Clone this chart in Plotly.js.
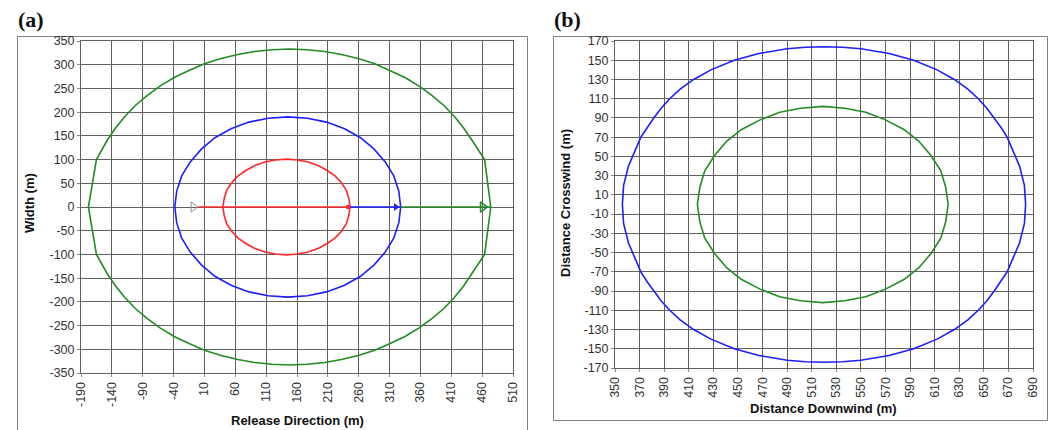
<!DOCTYPE html>
<html>
<head>
<meta charset="utf-8">
<script src="https://cdn.plot.ly/plotly-3.0.1.min.js"></script>
<style>
  html, body { margin: 0; padding: 0; background: #fff; }
  #chart { width: 1051px; height: 430px; }
</style>
</head>
<body>
<div id="chart"></div>
<script>
// ---------- Panel (a): release direction vs width ----------
const aGreenX = [474, 464, 443.5, 430, 415, 398, 378.5, 358, 335, 311, 286, 259, 232, 205, 176, 148,
                 120, 91, 64, 37, 10, -15, -39, -62, -82.5, -102, -119, -134, -147.5, -165, -178,
                 -165, -147.5, -134, -119, -102, -82.5, -62, -39, -15, 10, 37, 64, 91, 120,
                 148, 176, 205, 232, 259, 286, 311, 335, 358, 378.5, 398, 415, 430, 443.5, 464, 474];
const aGreenY = [0, 100, 140.7, 166.5, 191, 214, 235.5, 255, 273, 288, 302, 313, 321.6, 328, 331.7, 333,
                 331.7, 328, 321.6, 313, 302, 288, 273, 255, 235.5, 214, 191, 166.5, 140.7, 100, 0,
                 -100, -140.7, -166.5, -191, -214, -235.5, -255, -273, -288, -302, -313, -321.6, -328, -331.7,
                 -333, -331.7, -328, -321.6, -313, -302, -288, -273, -255, -235.5, -214, -191, -166.5, -140.7, -100, 0];

const aBlueX = [328, 325, 317, 303, 285, 263, 237, 208, 177, 145, 113, 82, 53, 27, 5, -13, -27, -35, -38,
                -35, -27, -13, 5, 27, 53, 82, 113, 145, 177, 208, 237, 263, 285, 303, 317, 325, 328];
const aBlueY = [0, 33, 65, 95, 122, 146, 165, 179, 187, 190, 187, 179, 165, 146, 122, 95, 65, 33, 0,
                -33, -65, -95, -122, -146, -165, -179, -187, -190, -187, -179, -165, -146, -122, -95, -65, -33, 0];

const aRedX = [246, 244, 240, 232, 222, 209, 195, 178, 161, 143, 125, 108, 91, 77, 64, 54, 46, 42, 40,
               42, 46, 54, 64, 77, 91, 108, 125, 143, 161, 178, 195, 209, 222, 232, 240, 244, 246];
const aRedY = [0, 18, 35, 51, 65, 77, 87, 95, 99, 101, 99, 95, 87, 77, 65, 51, 35, 18, 0,
               -18, -35, -51, -65, -77, -87, -95, -99, -101, -99, -95, -87, -77, -65, -51, -35, -18, 0];

// centre-line segments (release point -> red -> blue -> green extents)
const axisBreaks = [0, 245, 328, 474];
const releaseMarkX = -8;
const redMarkX = 243;
const blueMarkX = 320;
const greenMarkX = 461;

const aXTicks = [-190, -140, -90, -40, 10, 60, 110, 160, 210, 260, 310, 360, 410, 460, 510];
const aYTicks = [-350, -300, -250, -200, -150, -100, -50, 0, 50, 100, 150, 200, 250, 300, 350];

// ---------- Panel (b): distance downwind vs crosswind ----------
const bBlueX = [684, 683.5, 683, 681, 679, 674, 669, 664, 658.5, 652.5, 645.5, 637, 626, 612, 593, 573, 550, 535, 520,
                505, 490, 467, 447, 428, 414, 403, 394.5, 387.5, 381.5, 376, 371, 366, 361, 359, 357, 356.5, 356,
                356.5, 357, 359, 361, 366, 371, 376, 381.5, 387.5, 394.5, 403, 414, 428, 447, 467, 490, 505,
                520, 535, 550, 573, 593, 612, 626, 637, 645.5, 652.5, 658.5, 664, 669, 674, 679, 681, 683, 683.5, 684];
const bBlueY = [0, 10, 20, 30, 40, 55, 70, 80, 90, 100, 110, 120, 130, 140, 150, 157, 162, 163.5, 164,
                163.5, 162, 157, 150, 140, 130, 120, 110, 100, 90, 80, 70, 55, 40, 30, 20, 10, 0,
                -10, -20, -30, -40, -55, -70, -80, -90, -100, -110, -120, -130, -140, -150, -157, -162, -163.5,
                -164, -163.5, -162, -157, -150, -140, -130, -120, -110, -100, -90, -80, -70, -55, -40, -30, -20, -10, 0];

const bGreenX = [621, 619, 615, 607, 597, 585, 570, 554, 537, 519, 501, 484, 468, 453, 441, 431, 423, 419, 417,
                 419, 423, 431, 441, 453, 468, 484, 501, 519, 537, 554, 570, 585, 597, 607, 615, 619, 621];
const bGreenY = [0, 18, 35, 51, 66, 78, 88, 96, 100, 102, 100, 96, 88, 78, 66, 51, 35, 18, 0,
                 -18, -35, -51, -66, -78, -88, -96, -100, -102, -100, -96, -88, -78, -66, -51, -35, -18, 0];

const bXTicks = [350, 370, 390, 410, 430, 450, 470, 490, 510, 530, 550, 570, 590, 610, 630, 650, 670, 690];
const bYTicks = [-170, -150, -130, -110, -90, -70, -50, -30, -10, 10, 30, 50, 70, 90, 110, 130, 150, 170];

// ---------- colours / styles ----------
const GREEN = 'rgb(34,139,34)';
const BLUE = 'rgb(30,30,255)';
const RED = 'rgb(255,40,40)';
const GRID = '#606060';

function curve(x, y, color, xa, ya) {
  return { type: 'scatter', mode: 'lines', x: x, y: y, xaxis: xa, yaxis: ya,
           line: { color: color, width: 1.6 }, hoverinfo: 'skip' };
}

const traces = [
  curve(aGreenX, aGreenY, GREEN, 'x', 'y'),
  curve(aBlueX, aBlueY, BLUE, 'x', 'y'),
  curve(aRedX, aRedY, RED, 'x', 'y'),
  curve([axisBreaks[0], axisBreaks[1]], [0, 0], RED, 'x', 'y'),
  curve([axisBreaks[1], axisBreaks[2]], [0, 0], BLUE, 'x', 'y'),
  curve([axisBreaks[2], axisBreaks[3]], [0, 0], GREEN, 'x', 'y'),
  { type: 'scatter', mode: 'markers', x: [releaseMarkX], y: [0], xaxis: 'x', yaxis: 'y',
    marker: { symbol: 'triangle-right-open', size: 9, color: '#909090', line: { width: 1, color: '#909090' } } },
  { type: 'scatter', mode: 'markers', x: [redMarkX], y: [0], xaxis: 'x', yaxis: 'y',
    marker: { symbol: 'square', size: 4, color: RED } },
  { type: 'scatter', mode: 'markers', x: [blueMarkX], y: [0], xaxis: 'x', yaxis: 'y',
    marker: { symbol: 'triangle-right', size: 7, color: BLUE } },
  { type: 'scatter', mode: 'markers', x: [greenMarkX], y: [0], xaxis: 'x', yaxis: 'y',
    marker: { symbol: 'triangle-right-open', size: 9, color: GREEN, line: { width: 1.5, color: GREEN } } },
  curve(bBlueX, bBlueY, BLUE, 'x2', 'y2'),
  curve(bGreenX, bGreenY, GREEN, 'x2', 'y2')
];

const W = 1051, H = 430;
const px = v => v / W;
const py = v => 1 - v / H;

function axis(domain, range, ticks, anchor, angle) {
  return {
    domain: domain, range: range, anchor: anchor,
    tickmode: 'array', tickvals: ticks, ticktext: ticks.map(String),
    tickangle: angle, ticks: 'outside', ticklen: 3, tickcolor: '#888',
    tickfont: { family: 'Liberation Sans, Arial, sans-serif', size: 12.5, color: '#333' },
    showgrid: true, gridcolor: GRID, gridwidth: 1,
    showline: true, linecolor: GRID, linewidth: 1, mirror: true,
    zeroline: false, fixedrange: true
  };
}

const titleFont = { family: 'Liberation Sans, Arial, sans-serif', size: 13, color: '#111' };
const labelFont = { family: 'Liberation Serif, Times New Roman, serif', size: 22, color: '#111' };

const layout = {
  width: W, height: H,
  margin: { l: 0, r: 0, t: 0, b: 0 },
  paper_bgcolor: '#fff', plot_bgcolor: '#fff',
  showlegend: false,
  xaxis: axis([px(81), px(513)], [-190, 510], aXTicks, 'y', -90),
  yaxis: axis([1 - 373 / H, 1 - 41 / H], [-350, 350], aYTicks, 'x', 0),
  xaxis2: axis([px(615), px(1033)], [350, 690], bXTicks, 'y2', -90),
  yaxis2: axis([1 - 368 / H, 1 - 41 / H], [-170, 170], bYTicks, 'x2', 0),
  shapes: [
    { type: 'rect', xref: 'paper', yref: 'paper', x0: px(17.5), x1: px(527.5), y0: -0.05, y1: py(36.5),
      line: { color: '#808080', width: 1 }, fillcolor: 'rgba(0,0,0,0)', layer: 'below' },
    { type: 'rect', xref: 'paper', yref: 'paper', x0: px(553.5), x1: px(1047.5), y0: py(420.5), y1: py(36.5),
      line: { color: '#808080', width: 1 }, fillcolor: 'rgba(0,0,0,0)', layer: 'below' }
  ],
  annotations: [
    { text: '<b>(a)</b>', xref: 'paper', yref: 'paper', x: px(16), y: py(20), xanchor: 'left', yanchor: 'middle',
      showarrow: false, font: labelFont },
    { text: '<b>(b)</b>', xref: 'paper', yref: 'paper', x: px(552), y: py(20), xanchor: 'left', yanchor: 'middle',
      showarrow: false, font: labelFont },
    { text: '<b>Release Direction (m)</b>', xref: 'paper', yref: 'paper', x: px(297), y: py(420),
      xanchor: 'center', yanchor: 'middle', showarrow: false, font: titleFont },
    { text: '<b>Width (m)</b>', xref: 'paper', yref: 'paper', x: px(29), y: py(203),
      xanchor: 'center', yanchor: 'middle', textangle: -90, showarrow: false, font: titleFont },
    { text: '<b>Distance Downwind (m)</b>', xref: 'paper', yref: 'paper', x: px(823), y: py(408),
      xanchor: 'center', yanchor: 'middle', showarrow: false, font: titleFont },
    { text: '<b>Distance Crosswind (m)</b>', xref: 'paper', yref: 'paper', x: px(565), y: py(203),
      xanchor: 'center', yanchor: 'middle', textangle: -90, showarrow: false, font: titleFont }
  ]
};

Plotly.newPlot('chart', traces, layout, { staticPlot: true, displayModeBar: false });
</script>
</body>
</html>
